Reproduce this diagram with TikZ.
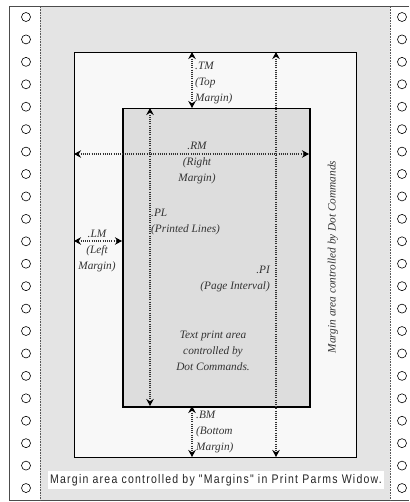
\documentclass[tikz,border=0pt]{standalone}
\usepackage{fontspec}
\setmainfont{Liberation Serif}
\newfontfamily\bottomfont[FakeStretch=0.84, LetterSpace=10]{Liberation Sans}
\usetikzlibrary{arrows.meta}
\definecolor{outergray}{HTML}{E4E4E4}
\definecolor{margfill}{HTML}{F8F8F8}
\definecolor{innerfill}{HTML}{DDDDDD}
\definecolor{labelcol}{HTML}{333333}
\tikzset{
  dimarrow/.style={draw=black!80, line width=1.1pt, dash pattern=on 1.1pt off 1.1pt,
    {Stealth[length=7pt,width=7.5pt,black]}-{Stealth[length=7pt,width=7.5pt,black]}},
  lbl/.style={inner sep=0pt, text=labelcol, font=\fontsize{11.3}{16}\selectfont\itshape},
  hole/.style={draw=black, line width=0.6pt, fill=white},
}
\begin{document}
\begin{tikzpicture}[x=1pt,y=-1pt]
\useasboundingbox (0,0) rectangle (409,502);
\fill[white] (0,0) rectangle (409,502);
% gray area
\fill[outergray] (40,7) rectangle (390,500);
% frame
\draw[black!70, line width=1pt] (409,7) -- (9,7) -- (9,500) -- (409,500);
% dotted perforation lines
\draw[black!65, line width=0.7pt, dash pattern=on 0.8pt off 0.8pt] (40,7) -- (40,500);
\draw[black!65, line width=0.7pt, dash pattern=on 0.8pt off 0.8pt] (390,7) -- (390,500);
% holes
\foreach \k in {0,...,21}{
  \node[hole, circle, minimum size=9pt, inner sep=0pt] (hl\k) at (26,17+22.43*\k) {};
  \node[hole, circle, minimum size=9pt, inner sep=0pt] (hr\k) at (402,17+22.43*\k) {};
}
% margin area box
\node[draw=black, fill=margfill, line width=1.2pt, minimum width=282pt, minimum height=405pt, inner sep=0pt, anchor=north west] (marg) at (74,52) {};
% inner box
\node[draw=black, fill=innerfill, line width=1.5pt, minimum width=187pt, minimum height=298pt, inner sep=0pt, anchor=north west] (inner) at (122,108) {};
% coordinates for arrows
\coordinate (tmA) at (192,52);  \coordinate (tmB) at (192,108);
\coordinate (piA) at (276,52);  \coordinate (piB) at (276,457);
\coordinate (plA) at (150,108); \coordinate (plB) at (150,406);
\coordinate (rmA) at (74,154);  \coordinate (rmB) at (309,154);
\coordinate (lmA) at (74,241);  \coordinate (lmB) at (122,241);
\coordinate (bmA) at (192,406); \coordinate (bmB) at (192,457);
\draw[dimarrow] (tmA) -- (tmB);
\draw[dimarrow] (piA) -- (piB);
\draw[dimarrow] (plA) -- (plB);
\draw[dimarrow] (rmA) -- (rmB);
\draw[dimarrow] (lmA) -- (lmB);
\draw[dimarrow] (bmA) -- (bmB);
% labels
\node[lbl, align=left, anchor=west] (tm) at (195,83) {.TM\\(Top\\Margin)};
\node[lbl, align=center] (rm) at (197,163) {.RM\\(Right\\Margin)};
\node[lbl, align=left, anchor=west] (pl) at (151,222.5) {.PL\\(Printed Lines)};
\node[lbl, align=center] (lm) at (97,251) {.LM\\(Left\\Margin)};
\node[lbl, align=right, anchor=east] (pi) at (270,279.5) {.PI\\(Page Interval)};
\node[lbl, align=center] (tp) at (213,351) {Text print area\\controlled by\\Dot Commands.};
\node[lbl, align=left, anchor=west] (bm) at (196,432) {.BM\\(Bottom\\Margin)};
\node[lbl, rotate=90] (vt) at (333,257) {Margin area controlled by Dot Commands};
\node[fill=white, inner xsep=2pt, inner ysep=3pt, text=black!85, font=\bottomfont\fontsize{12.5}{14}\selectfont] (bt) at (216,480) {Margin area controlled by "Margins" in Print Parms Widow.};
\end{tikzpicture}
\end{document}
